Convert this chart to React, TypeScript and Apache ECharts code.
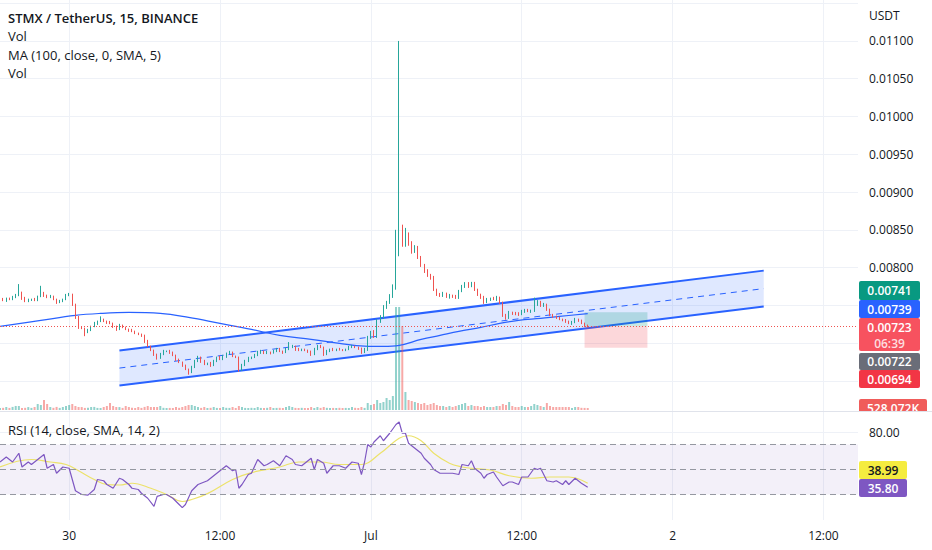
import React, { useEffect, useRef } from "react";
import * as echarts from "echarts";

// ---------- DATA ----------
const firstOpen = 0.007566;
const closes = [
  0.007579, 0.007566, 0.007593, 0.007579, 0.007606, 0.007632, 0.007672, 0.007593, 0.007553, 0.007579,
  0.007579, 0.007566, 0.007619, 0.007659, 0.007632, 0.007606, 0.007619, 0.007579, 0.00754, 0.007553,
  0.007579, 0.007632, 0.007645, 0.007513, 0.007341, 0.007209, 0.007196, 0.007143, 0.00717, 0.007222,
  0.007262, 0.007289, 0.007315, 0.007289, 0.007275, 0.007262, 0.007222, 0.007183, 0.007236, 0.007209,
  0.007183, 0.00717, 0.007156, 0.00713, 0.007117, 0.007103, 0.007024, 0.006958, 0.006905, 0.006852,
  0.006813, 0.006852, 0.006892, 0.006892, 0.006879, 0.006839, 0.006786, 0.006747, 0.006707, 0.006654,
  0.006614, 0.006681, 0.00676, 0.006813, 0.00676, 0.00672, 0.006733, 0.006707, 0.00676, 0.006813,
  0.006786, 0.006826, 0.006866, 0.006879, 0.006826, 0.006813, 0.006654, 0.006707, 0.00676, 0.0068,
  0.006813, 0.006839, 0.006879, 0.006892, 0.006866, 0.006879, 0.006872, 0.006892, 0.006918, 0.006892,
  0.006879, 0.006918, 0.006945, 0.006958, 0.006918, 0.006905, 0.006918, 0.006905, 0.006892, 0.006852,
  0.006918, 0.006958, 0.006945, 0.006852, 0.006892, 0.006918, 0.006905, 0.006918, 0.006912, 0.006905,
  0.006918, 0.006945, 0.006958, 0.006945, 0.006932, 0.006879, 0.006918, 0.007077, 0.007143, 0.00709,
  0.007289, 0.007341, 0.007474, 0.00754, 0.007619, 0.007738, 0.00824, 0.008478, 0.008306, 0.008425,
  0.008319, 0.008214, 0.008267, 0.008134, 0.008029, 0.007949, 0.007897, 0.00787, 0.007711, 0.007645,
  0.007632, 0.007659, 0.007619, 0.007632, 0.007619, 0.007606, 0.007685, 0.007751, 0.007778, 0.007751,
  0.007791, 0.007711, 0.007645, 0.007606, 0.00754, 0.007579, 0.007593, 0.007579, 0.007606, 0.00754,
  0.007368, 0.007341, 0.007407, 0.007394, 0.00739, 0.007381, 0.007421, 0.007434, 0.007421, 0.007434,
  0.007513, 0.00754, 0.0075, 0.007513, 0.007447, 0.007368, 0.007355, 0.007341, 0.007315, 0.00731,
  0.007289, 0.007262, 0.007275, 0.007315, 0.007302, 0.007262, 0.007236, 0.00723,
];
// wick lengths, in units of 0.00001 USDT
const WICK_UNIT = 0.00001;
const wickUp = [
  1, 2, 1, 1, 2, 2, 11, 1, 2, 1,
  1, 2, 1, 10, 2, 1, 2, 1, 1, 2,
  1, 2, 2, 1, 1, 2, 1, 1, 2, 1,
  2, 1, 4, 1, 1, 2, 1, 1, 2, 1,
  1, 1, 2, 1, 1, 1, 1, 2, 1, 1,
  1, 2, 2, 1, 2, 1, 1, 1, 1, 1,
  1, 2, 2, 2, 1, 2, 1, 2, 2, 1,
  2, 2, 1, 2, 1, 1, 1, 2, 2, 2,
  1, 2, 2, 2, 1, 2, 1, 2, 2, 2,
  1, 2, 7, 2, 1, 2, 1, 1, 1, 1,
  2, 2, 2, 1, 2, 1, 2, 1, 2, 1,
  1, 2, 2, 1, 1, 1, 2, 2, 2, 3,
  3, 3, 3, 2, 3, 4, 26, 252, 9, 10,
  4, 3, 3, 2, 2, 2, 3, 2, 2, 1,
  2, 2, 1, 2, 1, 2, 2, 2, 3, 3,
  2, 2, 1, 1, 2, 2, 1, 2, 2, 1,
  1, 2, 2, 1, 2, 2, 2, 2, 2, 1,
  9, 3, 2, 2, 1, 1, 2, 1, 1, 1,
  1, 1, 2, 2, 1, 1, 1, 1,
];
const wickDn = [
  1, 1, 2, 1, 1, 1, 1, 2, 1, 1,
  2, 1, 1, 1, 2, 1, 1, 1, 2, 1,
  1, 1, 1, 2, 2, 2, 1, 5, 1, 1,
  1, 2, 1, 1, 2, 1, 2, 2, 1, 1,
  1, 2, 1, 1, 1, 2, 2, 1, 1, 2,
  3, 2, 1, 1, 2, 1, 2, 1, 2, 1,
  3, 1, 1, 1, 2, 1, 1, 2, 1, 1,
  1, 1, 2, 1, 1, 1, 3, 2, 1, 1,
  1, 1, 1, 2, 1, 1, 2, 1, 1, 1,
  2, 1, 1, 1, 2, 1, 1, 1, 2, 2,
  1, 1, 1, 2, 1, 1, 1, 1, 1, 1,
  1, 1, 1, 1, 2, 2, 1, 2, 2, 2,
  2, 2, 2, 2, 2, 2, 3, 9, 3, 3,
  3, 3, 2, 2, 2, 2, 2, 3, 2, 2,
  2, 2, 2, 3, 2, 2, 2, 1, 2, 2,
  1, 2, 2, 2, 2, 1, 2, 1, 2, 2,
  2, 3, 2, 2, 2, 2, 1, 2, 1, 2,
  2, 2, 2, 2, 2, 1, 2, 2, 1, 2,
  2, 1, 2, 1, 2, 1, 2, 2,
];
// volume in thousands
const volumesK = [
  520, 560, 780, 540, 800, 1050, 1040, 520, 560, 760,
  540, 780, 1560, 1300, 2600, 1560, 780, 560, 800, 540,
  780, 1040, 1300, 1560, 1040, 780, 760, 540, 560, 780,
  800, 540, 520, 780, 1040, 1820, 1040, 780, 760, 540,
  1040, 780, 560, 520, 780, 540, 800, 1040, 780, 760,
  780, 1040, 560, 520, 540, 520, 780, 560, 780, 1040,
  1300, 1300, 1040, 780, 540, 780, 520, 560, 780, 540,
  520, 780, 560, 540, 780, 520, 1040, 780, 540, 520,
  560, 520, 780, 540, 520, 560, 780, 520, 540, 560,
  520, 780, 1040, 780, 540, 520, 560, 520, 540, 780,
  520, 780, 540, 780, 560, 520, 540, 520, 560, 520,
  540, 520, 780, 560, 520, 780, 540, 1820, 1300, 1560,
  2600, 1820, 2080, 3120, 2600, 3640, 26780, 26780, 21840, 4680,
  2600, 2340, 2080, 1820, 1560, 1820, 1300, 1560, 1820, 1300,
  1040, 1040, 780, 1040, 780, 1040, 1300, 1560, 1820, 1040,
  1300, 1040, 1040, 780, 1040, 780, 780, 780, 1040, 1040,
  1560, 1300, 2080, 1040, 780, 780, 1040, 780, 780, 1040,
  1560, 1300, 1040, 780, 1820, 1040, 780, 780, 780, 780,
  780, 780, 540, 780, 780, 560, 540, 528.072,
];
// MA(100) read at candle indices
const maPoints = [
  [0, 0.007222], [13, 0.007302], [24, 0.007368], [32, 0.007394], [41, 0.007407],
  [51, 0.007394], [60, 0.007341], [70, 0.007262], [80, 0.007183], [89, 0.007103],
  [99, 0.00705], [108, 0.006998], [116, 0.006962], [122, 0.006958], [127, 0.006971],
  [134, 0.00705], [140, 0.007103], [146, 0.007156], [153, 0.007209], [159, 0.007262],
  [165, 0.007302], [172, 0.007328], [178, 0.007355], [187, 0.00739],
];
// RSI(14) read at candle indices
const rsiPoints = [
  [0, 56], [2, 60], [4, 56], [6, 63], [7, 52], [9, 56], [10, 54], [12, 58], [14, 62], [15, 51],
  [17, 54], [18, 47], [20, 52], [22, 51], [23, 42], [24, 33], [26, 30], [28, 29.5], [30, 34], [31, 42],
  [33, 41], [34, 38], [36, 35], [38, 43], [39, 42], [41, 38], [42, 35], [44, 34], [45, 31], [47, 27],
  [49, 20.5], [50, 28.5], [52, 30], [53, 30], [55, 27], [57, 22], [58, 19.5], [59, 22], [61, 33], [63, 38],
  [64, 39], [66, 41], [68, 45], [70, 49], [72, 53], [74, 49], [75, 50], [76, 35], [77, 38], [79, 46],
  [80, 47], [82, 58], [84, 53], [85, 54], [87, 57], [89, 53], [91, 61], [93, 58], [94, 54], [96, 53],
  [97, 55], [99, 59], [100, 50], [101, 58], [103, 55], [104, 47], [106, 53], [108, 53], [110, 51], [112, 56],
  [114, 55], [115, 46], [116, 56], [117, 70], [118, 68], [119, 72], [121, 77], [122, 73], [124, 79], [126, 86],
  [127, 88], [128, 79], [129, 79], [130, 71], [132, 67], [134, 63], [135, 59], [137, 54], [138, 50], [140, 47],
  [142, 47], [144, 47], [146, 46], [147, 54], [149, 53], [150, 57], [151, 51], [153, 47], [154, 43], [155, 46],
  [157, 48], [158, 44], [160, 37], [162, 40], [163, 40], [165, 38], [166, 44], [168, 44], [170, 51], [171, 50],
  [172, 51], [174, 41], [176, 40], [177, 41], [179, 38], [180, 41], [181, 38], [183, 43], [185, 39], [187, 35.8],
];
// RSI-based SMA(14)
const rsiSmaPoints = [
  [0, 52], [10, 58], [16, 56], [21, 54], [25, 49], [30, 42], [34, 38], [38, 37.6], [42, 39], [48, 35],
  [53, 30], [58, 24.4], [61, 26], [66, 30.7], [74, 42], [80, 47.5], [89, 52], [95, 56], [102, 56], [108, 54],
  [115, 54], [121, 63], [127, 75], [130, 77], [134, 73], [138, 63], [143, 55], [147, 52], [150, 51], [156, 49.6],
  [162, 45], [169, 43], [175, 44], [181, 44], [187, 38.99],
];
// drawn parallel channel: [startIdx, upperStart, lowerStart, endIdx, upperEnd, lowerEnd]
const channel = [38, 0.006902, 0.00644, 243, 0.00796, 0.007484];
// long position tool: [startIdx, endIdx, target, entry, stop]
const position = [186, 206, 0.00741, 0.00722, 0.00694];
const lastPrice = 0.00723;
const maLast = 0.00739;
const countdown = "06:39";
const rsiLast = 35.8;
const rsiSmaLast = 38.99;
const rsiLevels = [70, 50, 30];
const monthNames = ["Jan", "Feb", "Mar", "Apr", "May", "Jun", "Jul", "Aug", "Sep", "Oct", "Nov", "Dec"];
const seriesStart = Date.UTC(2023, 5, 29, 18, 30);
const barMinutes = 15;
const axisBars = 274;

// ---------- BUILD ----------
const FONT = '"Open Sans", "Noto Sans", sans-serif';
const categories: string[] = [];
for (let i = 0; i < axisBars; i++) {
  categories.push(new Date(seriesStart + i * barMinutes * 60000).toISOString().slice(0, 16).replace("T", " "));
}
function timeLabel(v: string): string {
  const t = v.slice(11, 16);
  if (t === "00:00") {
    const day = +v.slice(8, 10);
    return day === 1 ? monthNames[+v.slice(5, 7) - 1] : String(day);
  }
  if (t === "12:00") return "12:00";
  return "";
}

const candles = closes.map((c, i) => {
  const o = i === 0 ? firstOpen : closes[i - 1];
  return [o, c, Math.min(o, c) - wickDn[i] * WICK_UNIT, Math.max(o, c) + wickUp[i] * WICK_UNIT];
});
const volumeData = volumesK.map((v, i) => ({
  value: v,
  itemStyle: { color: candles[i][1] >= candles[i][0] ? "rgba(38,166,154,0.5)" : "rgba(239,83,80,0.5)" },
}));

function tag(x: number, y: number, w: number, h: number, bg: string, text: string, color = "#ffffff", extra?: string) {
  const children: any[] = [
    { type: "rect", shape: { x, y, width: w, height: h, r: 2 }, style: { fill: bg } },
    {
      type: "text",
      x: x + w / 2,
      y: extra ? y + 9 : y + h / 2,
      style: { text, fill: color, font: `600 12px ${FONT}`, align: "center", verticalAlign: "middle" },
    },
  ];
  if (extra) {
    children.push({
      type: "text",
      x: x + w / 2,
      y: y + 25,
      style: { text: extra, fill: "rgba(255,255,255,0.82)", font: `600 12px ${FONT}`, align: "center", verticalAlign: "middle" },
    });
  }
  return { type: "group", z: 100, children };
}

function legendText(x: number, y: number, text: string, bold = false) {
  return {
    type: "text",
    z: 100,
    x,
    y,
    style: { text, fill: "#131722", font: `${bold ? "600 " : ""}13px ${FONT}`, verticalAlign: "middle" },
  };
}

function buildOption(): any {
  const gridBase = { left: 0, right: 74, containLabel: false, outerBoundsMode: "none" };
  const hiddenX = (i: number) => ({ type: "category", gridIndex: i, data: categories, boundaryGap: false, show: false });
  const volLabel = (volumesK[volumesK.length - 1]).toFixed(3) + "K";
  return {
    animation: false,
    backgroundColor: "#ffffff",
    textStyle: { fontFamily: FONT },
    grid: [
      { ...gridBase, top: 3, height: 378 },
      { ...gridBase, top: 300, height: 110 },
      { ...gridBase, top: 412, height: 100 },
      { ...gridBase, top: 0, height: 520 },
    ],
    xAxis: [
      hiddenX(0),
      hiddenX(1),
      hiddenX(2),
      {
        type: "category",
        gridIndex: 3,
        data: categories,
        boundaryGap: false,
        axisLine: { show: false },
        axisTick: { show: false },
        axisLabel: {
          color: "#131722",
          fontSize: 12,
          margin: 9,
          interval: (_i: number, v: string) => timeLabel(v) !== "",
          formatter: (v: string) => timeLabel(v),
        },
        splitLine: {
          show: true,
          interval: (_i: number, v: string) => timeLabel(v) !== "",
          lineStyle: { color: "#eef1f7", width: 1 },
        },
      },
    ],
    yAxis: [
      {
        type: "value",
        gridIndex: 0,
        position: "right",
        min: 0.0065,
        max: 0.0115,
        interval: 0.0005,
        axisLine: { show: false },
        axisTick: { show: false },
        axisLabel: {
          margin: 11,
          color: "#131722",
          fontSize: 12,
          formatter: (v: number) => (v > 0.00795 && v < 0.01105 ? v.toFixed(5) : ""),
        },
        splitLine: { show: true, lineStyle: { color: "#eef1f7", width: 1 } },
      },
      { type: "value", gridIndex: 1, min: 0, max: 28600, show: false },
      {
        type: "value",
        gridIndex: 2,
        position: "right",
        min: 16,
        max: 96,
        interval: 16,
        axisLine: { show: false },
        axisTick: { show: false },
        axisLabel: {
          margin: 11,
          color: "#131722",
          fontSize: 12,
          formatter: (v: number) => (v === 80 ? "80.00" : ""),
        },
        splitLine: { show: false },
      },
      { type: "value", gridIndex: 3, min: 0, max: 1, show: false },
    ],
    series: [
      {
        type: "bar",
        xAxisIndex: 1,
        yAxisIndex: 1,
        data: volumeData,
        barWidth: 2,
        z: 1,
        silent: true,
      },
      {
        type: "custom",
        xAxisIndex: 0,
        yAxisIndex: 0,
        z: 1,
        silent: true,
        clip: false,
        data: [channel],
        renderItem: (_p: any, api: any) => {
          const a = api.coord([api.value(0), api.value(1)]);
          const d = api.coord([api.value(0), api.value(2)]);
          const b = api.coord([api.value(3), api.value(4)]);
          const c = api.coord([api.value(3), api.value(5)]);
          const m0 = [(a[0] + d[0]) / 2, (a[1] + d[1]) / 2];
          const m1 = [(b[0] + c[0]) / 2, (b[1] + c[1]) / 2];
          return {
            type: "group",
            children: [
              { type: "polygon", shape: { points: [a, b, c, d] }, style: { fill: "rgba(41,98,255,0.15)" } },
              { type: "line", shape: { x1: m0[0], y1: m0[1], x2: m1[0], y2: m1[1] }, style: { stroke: "#2962ff", lineWidth: 1, lineDash: [6, 5] } },
              { type: "line", shape: { x1: a[0], y1: a[1], x2: b[0], y2: b[1] }, style: { stroke: "#2962ff", lineWidth: 2 } },
              { type: "line", shape: { x1: d[0], y1: d[1], x2: c[0], y2: c[1] }, style: { stroke: "#2962ff", lineWidth: 2 } },
            ],
          };
        },
      },
      {
        type: "custom",
        xAxisIndex: 0,
        yAxisIndex: 0,
        z: 1,
        silent: true,
        clip: false,
        data: [position],
        renderItem: (_p: any, api: any) => {
          const tl = api.coord([api.value(0), api.value(2)]);
          const en = api.coord([api.value(1), api.value(3)]);
          const sl = api.coord([api.value(1), api.value(4)]);
          const w = en[0] - tl[0];
          return {
            type: "group",
            children: [
              { type: "rect", shape: { x: tl[0], y: tl[1], width: w, height: en[1] - tl[1] }, style: { fill: "rgba(8,153,129,0.22)" } },
              { type: "rect", shape: { x: tl[0], y: en[1], width: w, height: sl[1] - en[1] }, style: { fill: "rgba(242,54,69,0.2)" } },
            ],
          };
        },
      },
      {
        type: "line",
        xAxisIndex: 0,
        yAxisIndex: 0,
        data: maPoints,
        smooth: 0.4,
        showSymbol: false,
        silent: true,
        z: 3,
        lineStyle: { color: "#2962ff", width: 1.2 },
      },
      {
        type: "candlestick",
        xAxisIndex: 0,
        yAxisIndex: 0,
        data: candles,
        barWidth: 1,
        z: 4,
        silent: true,
        itemStyle: {
          color: "#26a69a",
          color0: "#ef5350",
          borderColor: "#26a69a",
          borderColor0: "#ef5350",
          borderWidth: 1,
        },
        markLine: {
          symbol: ["none", "none"],
          silent: true,
          precision: 6,
          label: { show: false },
          lineStyle: { color: "#ef5350", type: [1, 2], width: 1 },
          data: [{ yAxis: lastPrice }],
        },
      },
      {
        type: "line",
        xAxisIndex: 2,
        yAxisIndex: 2,
        data: rsiSmaPoints,
        smooth: 0.4,
        showSymbol: false,
        silent: true,
        z: 3,
        lineStyle: { color: "#ece26a", width: 1.2 },
      },
      {
        type: "line",
        xAxisIndex: 2,
        yAxisIndex: 2,
        data: rsiPoints,
        showSymbol: false,
        silent: true,
        z: 4,
        lineStyle: { color: "#7e57c2", width: 1.2 },
        markArea: {
          silent: true,
          itemStyle: { color: "rgba(126,87,194,0.09)" },
          data: [[{ yAxis: rsiLevels[2] }, { yAxis: rsiLevels[0] }]],
        },
        markLine: {
          symbol: ["none", "none"],
          silent: true,
          label: { show: false },
          lineStyle: { color: "#9598a1", type: [6, 4], width: 1 },
          data: [
            ...rsiLevels.map((l) => ({ yAxis: l })),
            { yAxis: 80, lineStyle: { color: "#eef1f7", type: "solid", width: 1 } },
          ],
        },
      },
    ],
    graphic: {
      elements: [
        legendText(8, 18, "STMX / TetherUS, 15, BINANCE", true),
        legendText(8, 36, "Vol"),
        legendText(8, 55, "MA (100, close, 0, SMA, 5)"),
        legendText(8, 73, "Vol"),
        legendText(8, 430, "RSI (14, close, SMA, 14, 2)"),
        { type: "text", z: 100, x: 869, y: 15, style: { text: "USDT", fill: "#131722", font: `12px ${FONT}`, verticalAlign: "middle" } },
        tag(859, 281, 61, 19, "#089981", position[2].toFixed(5)),
        tag(859, 300, 61, 18, "#2962ff", maLast.toFixed(5)),
        tag(859, 318, 61, 33, "#f7525f", lastPrice.toFixed(5), "#ffffff", countdown),
        tag(859, 353, 61, 17, "#6a6d78", position[3].toFixed(5)),
        tag(859, 370, 61, 18, "#f23645", position[4].toFixed(5)),
        tag(859, 399, 68, 18, "#f05c5a", volLabel),
        { type: "rect", z: 101, shape: { x: 852, y: 411, width: 80, height: 10 }, style: { fill: "#ffffff" } },
        { type: "line", z: 102, shape: { x1: 0, y1: 411.5, x2: 932, y2: 411.5 }, style: { stroke: "#e0e3eb", lineWidth: 1 } },
        tag(859, 461, 48, 18, "#f5ec3f", rsiSmaLast.toFixed(2), "#131722"),
        tag(859, 479, 48, 18, "#7e57c2", rsiLast.toFixed(2)),
      ],
    },
  };
}

export default function App() {
  const ref = useRef<HTMLDivElement>(null);
  useEffect(() => {
    if (!ref.current) return;
    const chart = echarts.init(ref.current, null, { renderer: "svg" });
    chart.setOption(buildOption());
    return () => chart.dispose();
  }, []);
  return <div ref={ref} style={{ position: "fixed", left: 0, top: 0, width: 932, height: 550, background: "#fff" }} />;
}
